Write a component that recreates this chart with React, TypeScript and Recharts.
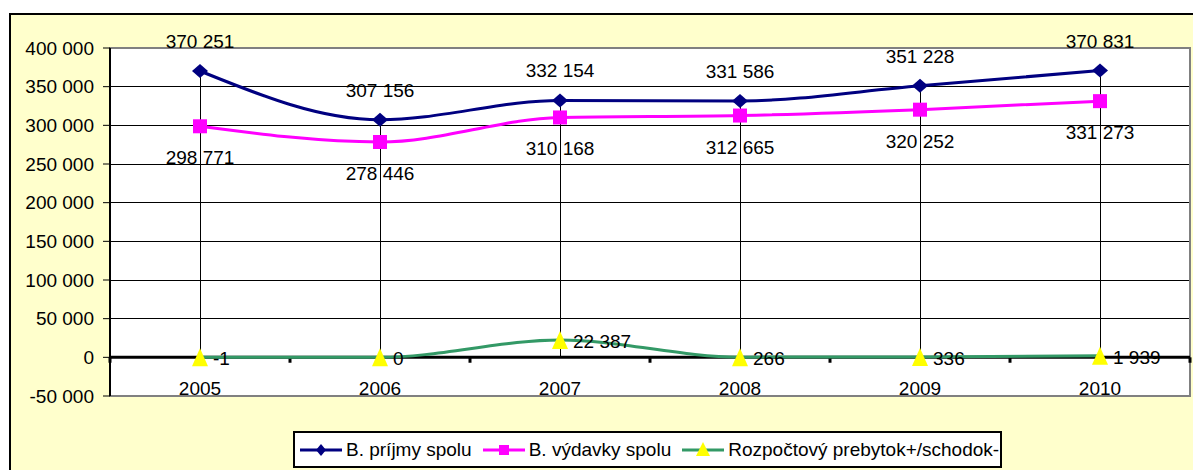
import {
  LineChart,
  Line,
  XAxis,
  YAxis,
  CartesianGrid,
  ReferenceLine,
  ReferenceArea,
  LabelList,
} from 'recharts';

const years = ['2005', '2006', '2007', '2008', '2009', '2010'];
const income = [370251, 307156, 332154, 331586, 351228, 370831];
const expenses = [298771, 278446, 310168, 312665, 320252, 331273];
const balance = [-1, 0, 22387, 266, 336, 1939];
const yTicks = [-50000, 0, 50000, 100000, 150000, 200000, 250000, 300000, 350000, 400000];
const seriesNames = ['B. príjmy spolu', 'B. výdavky spolu', 'Rozpočtový prebytok+/schodok-'];

const FONT = '"Liberation Sans", Arial, sans-serif';
const NAVY = '#000080';
const MAGENTA = '#FF00FF';
const GREEN = '#339966';
const YELLOW = '#FFFF00';

const data = years.map((year, i) => ({
  idx: i,
  year,
  income: income[i],
  expenses: expenses[i],
  balance: balance[i],
}));

function fmt(n: number) {
  const s = String(Math.abs(n)).replace(/\B(?=(\d{3})+(?!\d))/g, ' ');
  return (n < 0 ? '-' : '') + s;
}

function Diamond({ cx, cy, w = 8, h = 7 }: any) {
  return <polygon points={`${cx},${cy - h} ${cx + w},${cy} ${cx},${cy + h} ${cx - w},${cy}`} fill={NAVY} />;
}

function Square({ cx, cy, s = 7 }: any) {
  return <rect x={cx - s} y={cy - s} width={s * 2} height={s * 2} fill={MAGENTA} />;
}

function Triangle({ cx, cy, w = 8, h = 9 }: any) {
  return <polygon points={`${cx},${cy - h} ${cx + w},${cy + h} ${cx - w},${cy + h}`} fill={YELLOW} />;
}

const labelStyle = { fontFamily: FONT, fontSize: 19, fill: '#000' };

function AboveLabel(p: any) {
  return (
    <text x={p.x} y={p.y - 23} textAnchor="middle" style={labelStyle}>
      {fmt(p.value)}
    </text>
  );
}

function BelowLabel(p: any) {
  return (
    <text x={p.x} y={p.y + 38} textAnchor="middle" style={labelStyle}>
      {fmt(p.value)}
    </text>
  );
}

function RightLabel(p: any) {
  return (
    <text x={p.x + 13} y={p.y + 8} textAnchor="start" style={labelStyle}>
      {fmt(p.value)}
    </text>
  );
}

function YearTick(p: any) {
  return (
    <text x={p.x} y={p.y - 1} textAnchor="middle" style={labelStyle}>
      {years[p.payload.value]}
    </text>
  );
}

function LegendIcon({ kind, color }: { kind: number; color: string }) {
  return (
    <svg width={42} height={20} style={{ display: 'block' }}>
      <line x1={0} y1={10} x2={42} y2={10} stroke={color} strokeWidth={3} />
      {kind === 0 && <Diamond cx={21} cy={10} w={5} h={6} />}
      {kind === 1 && <Square cx={21} cy={10} s={5} />}
      {kind === 2 && <Triangle cx={21} cy={9} w={7} h={7} />}
    </svg>
  );
}

const legendColors = [NAVY, MAGENTA, GREEN];

export default function App() {
  return (
    <div
      style={{
        position: 'fixed',
        left: 9,
        top: 13,
        width: 1184,
        height: 457,
        boxSizing: 'border-box',
        borderTop: '2px solid #000',
        borderLeft: '2px solid #000',
        background: '#FFFFCC',
        overflow: 'hidden',
      }}
    >
      <LineChart
        width={1182}
        height={455}
        data={data}
        margin={{ top: 33, right: 3, left: 0, bottom: 54 }}
      >
        <CartesianGrid vertical={false} stroke="#000" fill="#fff" shapeRendering="crispEdges" />
        <XAxis
          type="number"
          dataKey="idx"
          domain={[-0.5, 5.5]}
          ticks={[0, 1, 2, 3, 4, 5]}
          axisLine={false}
          tickLine={false}
          tickSize={0}
          tickMargin={0}
          height={20}
          tick={<YearTick />}
        />
        <YAxis
          width={99}
          domain={[-50000, 400000]}
          ticks={yTicks}
          interval={0}
          tickFormatter={fmt}
          axisLine={{ stroke: '#000', strokeWidth: 2 }}
          tickLine={{ stroke: '#000' }}
          tickSize={7}
          tickMargin={9}
          tick={{ fill: '#000', fontSize: 19, fontFamily: FONT }}
        />
        <ReferenceArea
          x1={-0.5}
          x2={5.5}
          y1={-50000}
          y2={400000}
          fill="none"
          stroke="#808080"
          strokeWidth={2}
        />
        {years.map((_, i) => (
          <ReferenceLine
            key={'drop' + i}
            segment={[
              { x: i, y: 0 },
              { x: i, y: Math.max(income[i], expenses[i], balance[i]) },
            ]}
            stroke="#000"
            strokeWidth={1}
            shapeRendering="crispEdges"
          />
        ))}
        <ReferenceLine y={0} stroke="#000" strokeWidth={3} />
        {[-0.5, 0.5, 1.5, 2.5, 3.5, 4.5, 5.5].map((b) => (
          <ReferenceLine
            key={'tick' + b}
            segment={[
              { x: b, y: 0 },
              { x: b, y: -7000 },
            ]}
            stroke="#000"
            strokeWidth={3}
          />
        ))}
        <Line
          type="monotone"
          dataKey="income"
          stroke={NAVY}
          strokeWidth={3}
          isAnimationActive={false}
          dot={(p: any) => <Diamond key={'d' + p.index} cx={p.cx} cy={p.cy} />}
          activeDot={false}
        >
          <LabelList dataKey="income" content={<AboveLabel />} />
        </Line>
        <Line
          type="monotone"
          dataKey="expenses"
          stroke={MAGENTA}
          strokeWidth={3}
          isAnimationActive={false}
          dot={(p: any) => <Square key={'s' + p.index} cx={p.cx} cy={p.cy} />}
          activeDot={false}
        >
          <LabelList dataKey="expenses" content={<BelowLabel />} />
        </Line>
        <Line
          type="monotone"
          dataKey="balance"
          stroke={GREEN}
          strokeWidth={3}
          isAnimationActive={false}
          dot={(p: any) => <Triangle key={'t' + p.index} cx={p.cx} cy={p.cy} />}
          activeDot={false}
        >
          <LabelList dataKey="balance" content={<RightLabel />} />
        </Line>
      </LineChart>
      <div
        style={{
          position: 'absolute',
          left: 282,
          top: 416,
          width: 709,
          height: 37,
          boxSizing: 'border-box',
          border: '2px solid #000',
          background: '#fff',
          display: 'flex',
          alignItems: 'center',
          paddingLeft: 5,
          fontFamily: FONT,
          fontSize: 19,
          color: '#000',
          whiteSpace: 'nowrap',
        }}
      >
        {seriesNames.map((name, i) => (
          <div key={name} style={{ display: 'flex', alignItems: 'center', marginRight: 11 }}>
            <LegendIcon kind={i} color={legendColors[i]} />
            <span style={{ marginLeft: 4 }}>{name}</span>
          </div>
        ))}
      </div>
    </div>
  );
}
